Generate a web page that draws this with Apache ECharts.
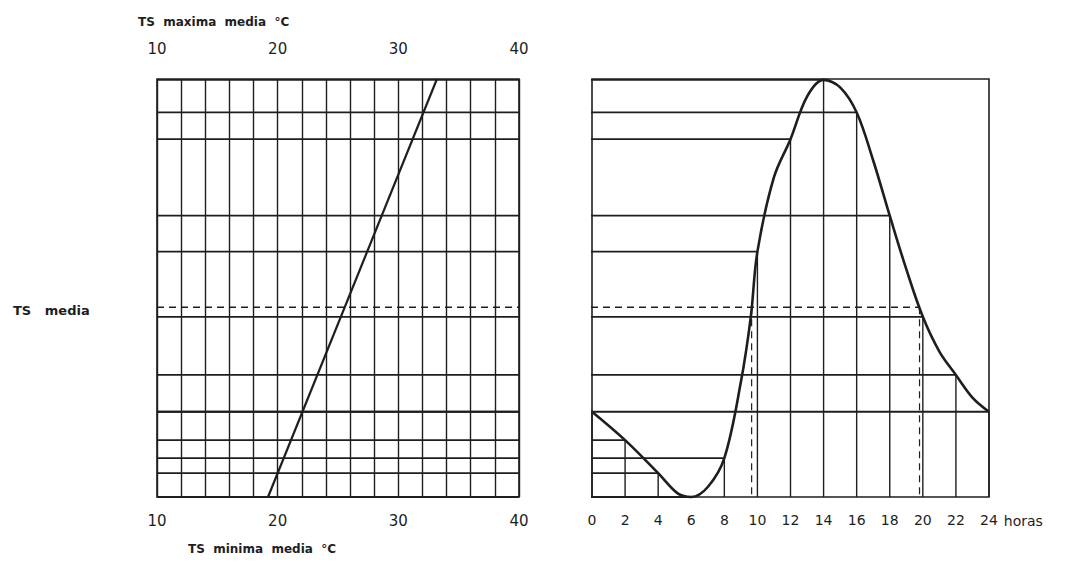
<!DOCTYPE html>
<html>
<head>
<meta charset="utf-8">
<script src="https://cdn.jsdelivr.net/npm/echarts@6/dist/echarts.min.js"></script>
<style>
  html, body { margin: 0; padding: 0; background: #fff; }
  #chart { width: 1088px; height: 562px; }
</style>
</head>
<body>
<div id="chart"></div>
<script>
// escala de temperatura (eje superior = maxima, inferior = minima)
const tempTicks = [10, 20, 30, 40];
// recta del nomograma: TS minima abajo, TS maxima arriba
const diagonalX = [19.2, 33.2];
const diagonalY = [0, 100];

// horas pares y valor relativo de TS (0 = minimo, 100 = maximo)
const hours = [0, 2, 4, 6, 8, 10, 12, 14, 16, 18, 20, 22, 24];
const tsAtHour = [20.4, 13.6, 5.7, 0, 9.3, 58.7, 85.6, 99.8, 92.0, 67.3, 43.1, 29.2, 20.4];

// puntos de la curva diaria
const curveHours = [0, 2, 4, 5.2, 6, 7, 8, 9, 9.6, 10, 11, 12, 13, 14, 15, 16, 17, 18, 19, 20, 21, 22, 23, 24];
const curveValues = [20.4, 13.6, 5.7, 0.8, 0, 2.4, 9.3, 27.5, 43.1, 58.7, 76.5, 85.6, 95.8, 99.8, 98.0, 92.0, 80.5, 67.3, 54.5, 43.1, 34.8, 29.2, 23.8, 20.4];

// TS media y horas en que la curva la cruza
const tsMedia = 45.4;
const mediaHours = [9.65, 19.8];

// layout
const L_LEFT = 157, L_WIDTH = 362;
const R_LEFT = 592, R_WIDTH = 397;
const TOP = 79, HEIGHT = 418;
const GAP_H = (R_LEFT - (L_LEFT + L_WIDTH)) / (R_WIDTH / 24); // hueco entre paneles, en horas

const ink = '#1e1e1e';
const font = 'DejaVu Sans';

function seg(name, grid, pts, width, dashed) {
  return {
    name: name,
    type: 'line',
    xAxisIndex: grid === 0 ? 0 : 2,
    yAxisIndex: grid,
    data: pts,
    symbol: 'none',
    clip: false,
    silent: true,
    lineStyle: { color: ink, width: width, type: dashed ? [7, 5] : 'solid' }
  };
}

const series = [];

// lineas horizontales: del panel izquierdo hasta la curva
hours.forEach(function (h, i) {
  const v = tsAtHour[i];
  series.push(seg('h' + h, 0, [[tempTicks[0], v], [tempTicks[3], v]], 1.8));
  series.push(seg('r' + h, 1, [[-GAP_H, v], [h, v]], 1.8));
  // vertical desde la curva hasta el eje de horas
  series.push(seg('v' + h, 1, [[h, v], [h, 0]], 1.4));
});

// TS media (discontinua)
series.push(seg('media', 0, [[tempTicks[0], tsMedia], [tempTicks[3], tsMedia]], 1.4, true));
series.push(seg('mediaR', 1, [[-GAP_H, tsMedia], [mediaHours[1], tsMedia]], 1.4, true));
mediaHours.forEach(function (h) {
  series.push(seg('mv' + h, 1, [[h, tsMedia], [h, 0]], 1.2, true));
});

// recta del nomograma
series.push({
  name: 'recta',
  type: 'line',
  xAxisIndex: 0,
  yAxisIndex: 0,
  data: diagonalX.map(function (x, i) { return [x, diagonalY[i]]; }),
  symbol: 'none',
  lineStyle: { color: ink, width: 2.2 }
});

// curva diaria
series.push({
  name: 'curva',
  type: 'line',
  xAxisIndex: 2,
  yAxisIndex: 1,
  data: curveHours.map(function (h, i) { return [h, curveValues[i]]; }),
  symbol: 'none',
  smooth: 0.35,
  clip: false,
  lineStyle: { color: ink, width: 2.6 }
});

const tempLabel = function (v) { return v % 10 === 0 ? String(v) : ''; };
const labelStyle = { fontFamily: font, fontSize: 12, fontWeight: 'bold', color: ink };

const option = {
  animation: false,
  backgroundColor: '#fff',
  title: [
    { text: 'TS\u00a0 maxima\u00a0 media\u00a0 °C', left: 133, top: 11, textStyle: labelStyle },
    { text: 'TS\u00a0 minima\u00a0 media\u00a0 °C', left: 183, top: 538, textStyle: labelStyle },
    { text: 'TS\u00a0\u00a0 media', left: 8, top: 299,
      textStyle: { fontFamily: font, fontSize: 13, fontWeight: 'bold', color: ink } }
  ],
  grid: [
    { left: L_LEFT, top: TOP, width: L_WIDTH, height: HEIGHT, show: true,
      borderColor: ink, borderWidth: 1.6, backgroundColor: 'transparent', outerBoundsMode: 'none' },
    { left: R_LEFT, top: TOP, width: R_WIDTH, height: HEIGHT, show: true,
      borderColor: ink, borderWidth: 1.6, backgroundColor: 'transparent', outerBoundsMode: 'none' }
  ],
  xAxis: [
    { // TS minima media
      type: 'value', gridIndex: 0, position: 'bottom', min: 10, max: 40, interval: 2,
      axisLine: { show: false }, axisTick: { show: false },
      axisLabel: { formatter: tempLabel, margin: 16, fontFamily: font, fontSize: 15, color: ink },
      splitLine: { show: true, lineStyle: { color: ink, width: 1.4 } }
    },
    { // TS maxima media
      type: 'value', gridIndex: 0, position: 'top', min: 10, max: 40, interval: 2,
      axisLine: { show: false }, axisTick: { show: false },
      axisLabel: { formatter: tempLabel, margin: 23, fontFamily: font, fontSize: 15, color: ink },
      splitLine: { show: false }
    },
    { // horas
      type: 'value', gridIndex: 1, position: 'bottom', min: 0, max: 24, interval: 2,
      name: 'horas', nameLocation: 'end', nameGap: 12,
      nameTextStyle: { fontFamily: font, fontSize: 14, color: ink, verticalAlign: 'top', padding: [17, 0, 0, 0] },
      axisLine: { show: false }, axisTick: { show: false },
      axisLabel: { margin: 16, fontFamily: font, fontSize: 14, color: ink },
      splitLine: { show: false }
    }
  ],
  yAxis: [
    { type: 'value', gridIndex: 0, min: 0, max: 100, show: false },
    { type: 'value', gridIndex: 1, min: 0, max: 100, show: false }
  ],
  series: series
};

const myChart = echarts.init(document.getElementById('chart'), null, { renderer: 'svg' });
myChart.setOption(option);
</script>
</body>
</html>
